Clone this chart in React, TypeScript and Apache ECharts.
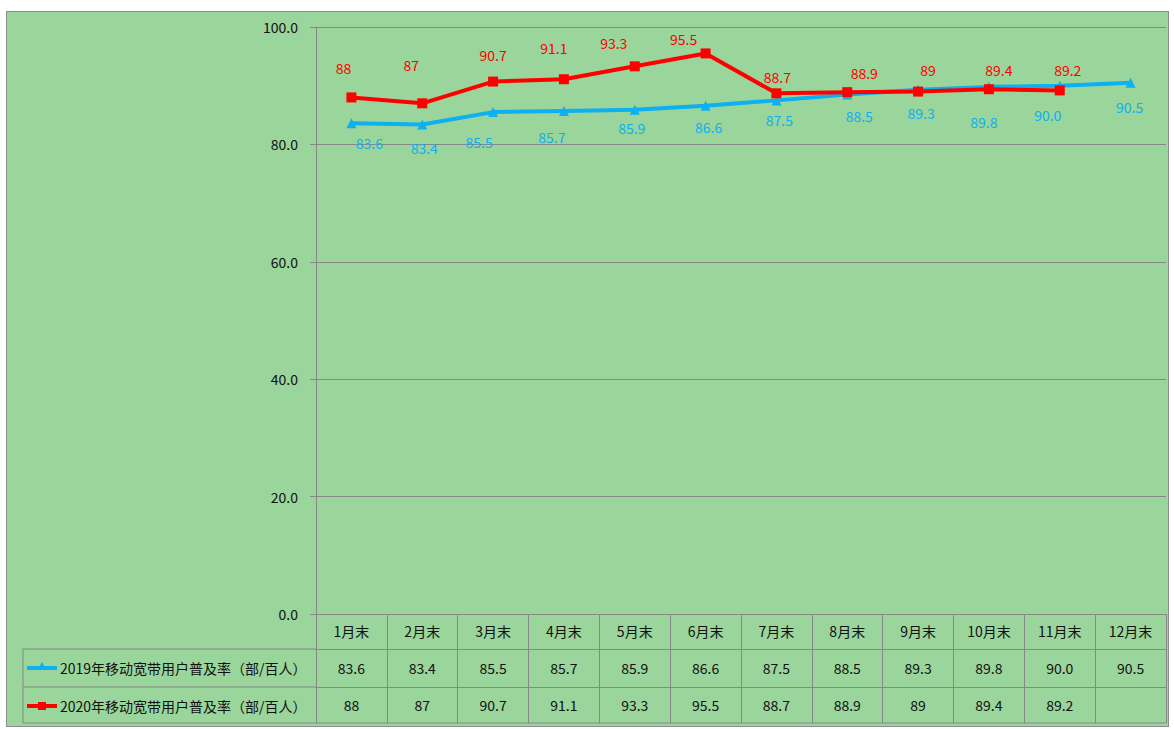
import React, { useEffect, useRef } from "react";
import * as echarts from "echarts";

const months = ["1月末", "2月末", "3月末", "4月末", "5月末", "6月末", "7月末", "8月末", "9月末", "10月末", "11月末", "12月末"];
const rate2019 = [83.6, 83.4, 85.5, 85.7, 85.9, 86.6, 87.5, 88.5, 89.3, 89.8, 90.0, 90.5];
const rate2020: (number | null)[] = [88, 87, 90.7, 91.1, 93.3, 95.5, 88.7, 88.9, 89, 89.4, 89.2, null];
const name2019 = "2019年移动宽带用户普及率（部/百人）";
const name2020 = "2020年移动宽带用户普及率（部/百人）";
const yTicks = [0, 20, 40, 60, 80, 100];

// label placement (layout only)
const off2019: [number, number][] = [[18, 20], [2, 24], [-14, 30], [-12, 26], [-3, 18], [3, 21], [3, 20], [12, 21], [3, 23], [-5, 35], [-12, 29], [-1, 24]];
const off2020: [number, number][] = [[-8, -29], [-11, -38], [0, -27], [-10, -31], [-21, -23], [-22, -14], [1, -16], [17, -19], [10, -22], [10, -19], [8, -20], [0, 0]];

const BLUE = "#0DB0F0";
const RED = "#FF0000";
const GRAY = "#878787";
const FONT = "'Noto Sans CJK SC', 'Noto Sans', sans-serif";
const TXT = "#111";

export default function App() {
  const ref = useRef<HTMLDivElement>(null);
  useEffect(() => {
    if (!ref.current) return;
    const chart = echarts.init(ref.current, undefined, { renderer: "svg" });
    const fmt19 = (v: number) => v.toFixed(1);
    const fmt20 = (v: number | null) => (v == null ? "" : String(v));
    const baseAxis = {
      type: "category" as const,
      position: "bottom" as const,
      boundaryGap: true,
      axisLine: { show: true, lineStyle: { color: GRAY, width: 1 } },
      splitLine: { show: false },
    };
    chart.setOption({
      animation: false,
      backgroundColor: "transparent",
      textStyle: { fontFamily: FONT },
      grid: { left: 309, right: 2, top: 15, bottom: 112, containLabel: false },
      xAxis: [
        {
          ...baseAxis,
          data: months,
          axisTick: { show: true, length: 35, lineStyle: { color: GRAY } },
          axisLabel: { interval: 0, margin: 10, fontSize: 14, color: TXT, fontFamily: FONT },
        },
        {
          ...baseAxis,
          data: rate2019.map(fmt19),
          offset: 35,
          axisTick: { show: true, length: 38, lineStyle: { color: GRAY } },
          axisLabel: { interval: 0, margin: 12, fontSize: 14, color: TXT, fontFamily: FONT },
        },
        {
          ...baseAxis,
          data: rate2020.map(fmt20),
          offset: 73,
          axisTick: { show: true, length: 36, lineStyle: { color: GRAY } },
          axisLabel: { interval: 0, margin: 11, fontSize: 14, color: TXT, fontFamily: FONT },
        },
      ],
      yAxis: {
        type: "value",
        min: yTicks[0],
        max: yTicks[yTicks.length - 1],
        interval: 20,
        axisLine: { show: true, lineStyle: { color: GRAY } },
        axisTick: { show: true, length: 6, lineStyle: { color: GRAY } },
        splitLine: { show: true, lineStyle: { color: GRAY, width: 1 } },
        axisLabel: { margin: 18, fontSize: 14, color: TXT, fontFamily: FONT, formatter: (v: number) => v.toFixed(1) },
      },
      series: [
        {
          name: name2019,
          type: "line",
          xAxisIndex: 0,
          data: rate2019.map((v, i) => ({
            value: v,
            label: { offset: off2019[i] },
          })),
          symbol: "triangle",
          symbolSize: 10,
          lineStyle: { color: BLUE, width: 4 },
          itemStyle: { color: BLUE },
          label: {
            show: true,
            position: "inside",
            color: BLUE,
            fontSize: 14,
            fontFamily: FONT,
            formatter: (p: any) => fmt19(p.value),
          },
        },
        {
          name: name2020,
          type: "line",
          xAxisIndex: 0,
          data: rate2020.map((v, i) => ({
            value: v,
            label: { offset: off2020[i] },
          })),
          symbol: "rect",
          symbolSize: 10,
          lineStyle: { color: RED, width: 4 },
          itemStyle: { color: RED },
          label: {
            show: true,
            position: "inside",
            color: RED,
            fontSize: 14,
            fontFamily: FONT,
            formatter: (p: any) => fmt20(p.value),
          },
        },
      ],
      graphic: [
        { type: "line", shape: { x1: 16, y1: 637, x2: 309, y2: 637 }, style: { stroke: GRAY, lineWidth: 1 } },
        { type: "line", shape: { x1: 16, y1: 675, x2: 309, y2: 675 }, style: { stroke: GRAY, lineWidth: 1 } },
        { type: "line", shape: { x1: 16, y1: 711, x2: 1159, y2: 711 }, style: { stroke: GRAY, lineWidth: 1 } },
        { type: "line", shape: { x1: 16, y1: 637, x2: 16, y2: 711 }, style: { stroke: GRAY, lineWidth: 1 } },
        // legend keys
        { type: "line", shape: { x1: 20, y1: 656, x2: 50, y2: 656 }, style: { stroke: BLUE, lineWidth: 4 } },
        { type: "polygon", shape: { points: [[35, 650], [31, 657], [39, 657]] }, style: { fill: BLUE } },
        { type: "line", shape: { x1: 20, y1: 694, x2: 50, y2: 694 }, style: { stroke: RED, lineWidth: 4 } },
        { type: "rect", shape: { x: 31, y: 690, width: 8, height: 8 }, style: { fill: RED } },
        { type: "text", x: 53, y: 656, style: { text: name2019, fill: TXT, fontSize: 14, fontFamily: FONT, textVerticalAlign: "middle", verticalAlign: "middle" } },
        { type: "text", x: 53, y: 694, style: { text: name2020, fill: TXT, fontSize: 14, fontFamily: FONT, textVerticalAlign: "middle", verticalAlign: "middle" } },
      ],
    });
    return () => chart.dispose();
  }, []);
  return (
    <div style={{ position: "fixed", left: 0, top: 0, width: 1174, height: 729, background: "#fff" }}>
      <div
        style={{
          position: "absolute",
          left: 6,
          top: 11,
          width: 1163,
          height: 716,
          boxSizing: "border-box",
          border: "1px solid #8c8c8c",
          background: "#9AD59C",
        }}
      >
        <div ref={ref} style={{ width: 1161, height: 714 }} />
      </div>
    </div>
  );
}
